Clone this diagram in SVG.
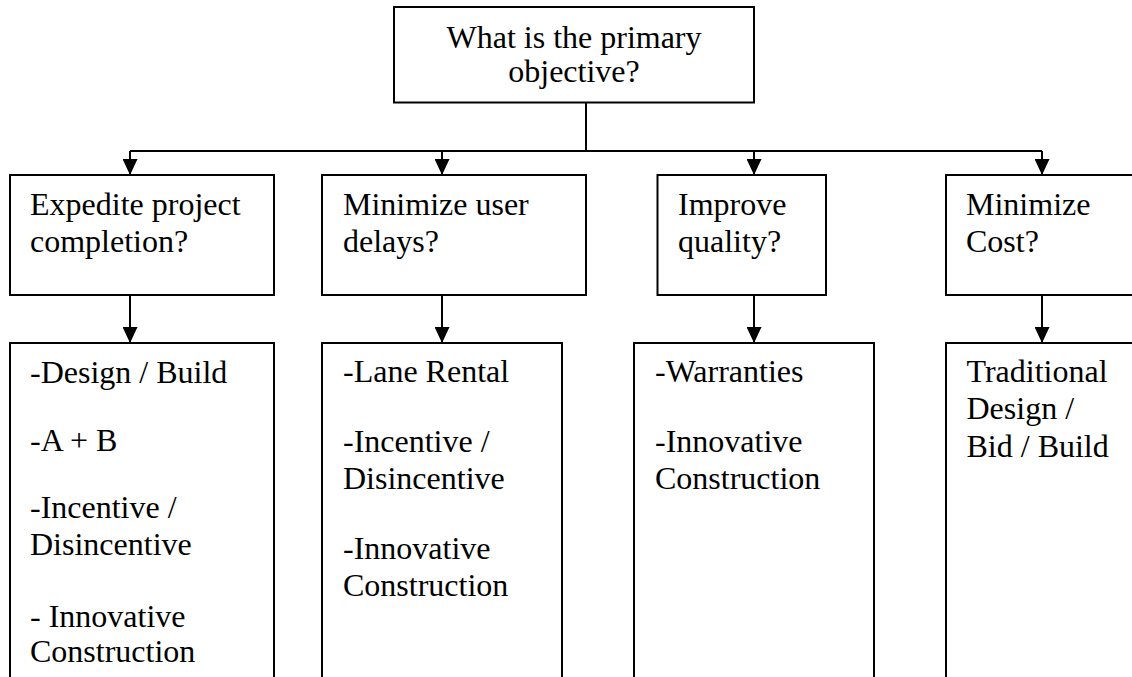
<svg xmlns="http://www.w3.org/2000/svg" width="1132" height="677" viewBox="0 0 1132 677">
<style>
.box{fill:#fff;stroke:#000;stroke-width:2}
.c{fill:none;stroke:#000;stroke-width:2}
.t{font-family:'Liberation Serif','Times New Roman',Times,serif;font-size:32px;fill:#000}
</style>
<defs>
<marker id="ah" markerUnits="userSpaceOnUse" markerWidth="16" markerHeight="15" viewBox="0 0 16 15" refX="16" refY="7.5" orient="auto">
<path d="M0,0 L16,7.5 L0,15 z" fill="#000"/>
</marker>
</defs>
<rect width="1132" height="677" fill="#fff"/>
<g id="connectors">
<path class="c" d="M586,102.5 V151"/>
<path class="c" d="M130,151 H1042"/>
<path class="c" d="M130,151 V175" marker-end="url(#ah)"/>
<path class="c" d="M442,151 V175" marker-end="url(#ah)"/>
<path class="c" d="M754,151 V175" marker-end="url(#ah)"/>
<path class="c" d="M1042,151 V175" marker-end="url(#ah)"/>
<path class="c" d="M130,295 V343" marker-end="url(#ah)"/>
<path class="c" d="M442,295 V343" marker-end="url(#ah)"/>
<path class="c" d="M754,295 V343" marker-end="url(#ah)"/>
<path class="c" d="M1042,295 V343" marker-end="url(#ah)"/>
</g>
<g class="t">
<g id="root">
<rect class="box" x="394" y="7" width="360" height="95.5"/>
<text x="574" y="47.5" text-anchor="middle">What is the primary</text>
<text x="574" y="82" text-anchor="middle">objective?</text>
</g>
<g id="q1">
<rect class="box" x="10" y="175" width="264" height="120"/>
<text x="30" y="214.5">Expedite project</text>
<text x="30" y="251.5">completion?</text>
</g>
<g id="q2">
<rect class="box" x="322" y="175" width="264" height="120"/>
<text x="343" y="214.5">Minimize user</text>
<text x="343" y="251.5">delays?</text>
</g>
<g id="q3">
<rect class="box" x="657.5" y="175" width="168.5" height="120"/>
<text x="678" y="214.5">Improve</text>
<text x="678" y="251.5">quality?</text>
</g>
<g id="q4">
<rect class="box" x="946" y="175" width="200" height="120"/>
<text x="966" y="214.5">Minimize</text>
<text x="966" y="251.5">Cost?</text>
</g>
<g id="a1">
<rect class="box" x="10" y="343" width="264" height="350"/>
<text x="30" y="383">-Design / Build</text>
<text x="30" y="450.5">-A + B</text>
<text x="30" y="518">-Incentive /</text>
<text x="30" y="555">Disincentive</text>
<text x="30" y="627">- Innovative</text>
<text x="30" y="662">Construction</text>
</g>
<g id="a2">
<rect class="box" x="322" y="343" width="240" height="350"/>
<text x="343" y="381.5">-Lane Rental</text>
<text x="343" y="451.5">-Incentive /</text>
<text x="343" y="488.5">Disincentive</text>
<text x="343" y="558.5">-Innovative</text>
<text x="343" y="595.5">Construction</text>
</g>
<g id="a3">
<rect class="box" x="634" y="343" width="240" height="350"/>
<text x="655" y="381.5">-Warranties</text>
<text x="655" y="451.5">-Innovative</text>
<text x="655" y="488.5">Construction</text>
</g>
<g id="a4">
<rect class="box" x="946" y="343" width="200" height="350"/>
<text x="966.5" y="381.5">Traditional</text>
<text x="966.5" y="419">Design /</text>
<text x="966.5" y="456.5">Bid / Build</text>
</g>
</g>
</svg>
